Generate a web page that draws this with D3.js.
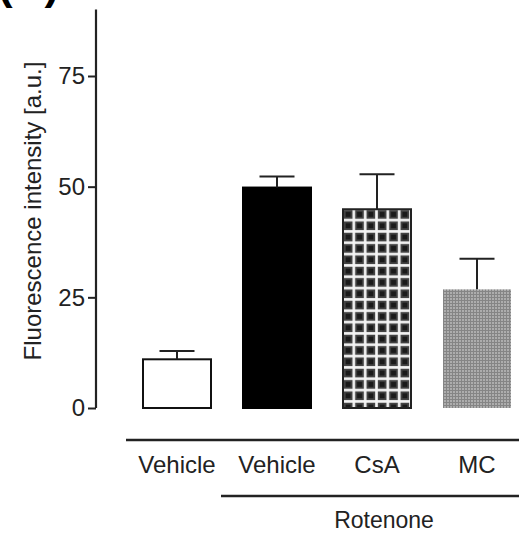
<!DOCTYPE html>
<html>
<head>
<meta charset="utf-8">
<script src="https://cdn.jsdelivr.net/npm/d3@7"></script>
<style>
  html, body { margin: 0; padding: 0; background: #fff; }
  svg { display: block; }
  text { font-family: "Liberation Sans", Arial, Helvetica, sans-serif; fill: #222; }
</style>
</head>
<body>
<svg id="chart" width="519" height="535"></svg>
<script>
// Fluorescence intensity per treatment group (mean and SEM)
const categories = ["Vehicle", "Vehicle ", "CsA", "MC"];
const labels = ["Vehicle", "Vehicle", "CsA", "MC"];
const means = [11.0, 49.8, 44.9, 26.8];
const errors = [1.9, 2.5, 7.9, 6.9];
const yTicks = [0, 25, 50, 75];
const fills = ["#ffffff", "#000000", "url(#gridDark)", "url(#gridGray)"];
const strokes = ["#111", "#000", "#222", "none"];

const svg = d3.select("#chart");
const W = 519, H = 535;

const y = d3.scaleLinear().domain([0, 90]).range([408, 9.6]);
const x = d3.scaleBand().domain(categories).range([127, 527])
  .paddingInner(0.32).paddingOuter(0.16);

// Hatch patterns for the inhibitor groups
const defs = svg.append("defs");
const bw = x.bandwidth();
const cell = bw / 6;
const pDark = defs.append("pattern").attr("id", "gridDark")
  .attr("patternUnits", "userSpaceOnUse")
  .attr("x", x("CsA")).attr("y", y(means[2]))
  .attr("width", cell).attr("height", cell);
pDark.append("rect").attr("width", cell).attr("height", cell).attr("fill", "#f4f4f4");
pDark.append("rect").attr("x", 0.8).attr("y", 0.8)
  .attr("width", cell - 2.6).attr("height", cell - 2.6).attr("fill", "#444");
pDark.append("rect").attr("x", 2.6).attr("y", 2.6)
  .attr("width", cell - 6.2).attr("height", cell - 6.2).attr("fill", "#1a1a1a");

const pGray = defs.append("pattern").attr("id", "gridGray")
  .attr("patternUnits", "userSpaceOnUse")
  .attr("x", x("MC")).attr("y", 0)
  .attr("width", 3).attr("height", 3);
pGray.append("rect").attr("width", 3).attr("height", 3).attr("fill", "#adadad");
pGray.append("rect").attr("width", 3).attr("height", 1).attr("fill", "#858585");
pGray.append("rect").attr("width", 1).attr("height", 3).attr("fill", "#858585");

// Panel letter, partly clipped at the top edge
svg.append("text").attr("x", -2).attr("y", -1)
  .attr("font-size", 44).attr("font-weight", "bold").style("fill", "#000")
  .text("(A)");

// Y axis
const yAxis = d3.axisLeft(y).tickValues(yTicks).tickSize(8).tickPadding(3)
  .tickFormat(d3.format("d"));
const gy = svg.append("g").attr("transform", "translate(96,0)").call(yAxis);
gy.select(".domain").attr("stroke", "#222").attr("stroke-width", 2.2)
  .attr("d", `M0,${y(90)}V${y(0)}`);
gy.selectAll(".tick line").attr("stroke", "#222").attr("stroke-width", 2);
gy.selectAll(".tick text").attr("font-size", 24).style("fill", "#222")
  .attr("font-family", "Liberation Sans, Arial, sans-serif");

svg.append("text")
  .attr("transform", `translate(41,211) rotate(-90)`)
  .attr("text-anchor", "middle").attr("font-size", 24)
  .text("Fluorescence intensity [a.u.]");

// Bars
svg.append("g").selectAll("rect").data(categories).join("rect")
  .attr("x", d => x(d))
  .attr("y", (d, i) => y(means[i]))
  .attr("width", bw)
  .attr("height", (d, i) => y(0) - y(means[i]))
  .attr("fill", (d, i) => fills[i])
  .attr("stroke", (d, i) => strokes[i])
  .attr("stroke-width", 2);

// Upper error bars
const eg = svg.append("g").attr("stroke", "#222").attr("stroke-width", 2);
categories.forEach((c, i) => {
  const cx = x(c) + bw / 2;
  eg.append("line").attr("x1", cx).attr("x2", cx)
    .attr("y1", y(means[i])).attr("y2", y(means[i] + errors[i]));
  eg.append("line").attr("x1", cx - 17.5).attr("x2", cx + 17.5)
    .attr("y1", y(means[i] + errors[i])).attr("y2", y(means[i] + errors[i]));
});

// Group labels under the bars
svg.append("line").attr("x1", 126).attr("x2", W).attr("y1", 440).attr("y2", 440)
  .attr("stroke", "#222").attr("stroke-width", 2.4);
svg.append("g").selectAll("text").data(categories).join("text")
  .attr("x", d => x(d) + bw / 2)
  .attr("y", 473)
  .attr("text-anchor", "middle")
  .attr("font-size", 24)
  .text((d, i) => labels[i]);

svg.append("line").attr("x1", x("Vehicle ") - 22).attr("x2", W).attr("y1", 496).attr("y2", 496)
  .attr("stroke", "#222").attr("stroke-width", 2.4);
svg.append("text").attr("x", 384).attr("y", 528).attr("text-anchor", "middle")
  .attr("font-size", 23).text("Rotenone");
</script>
</body>
</html>
